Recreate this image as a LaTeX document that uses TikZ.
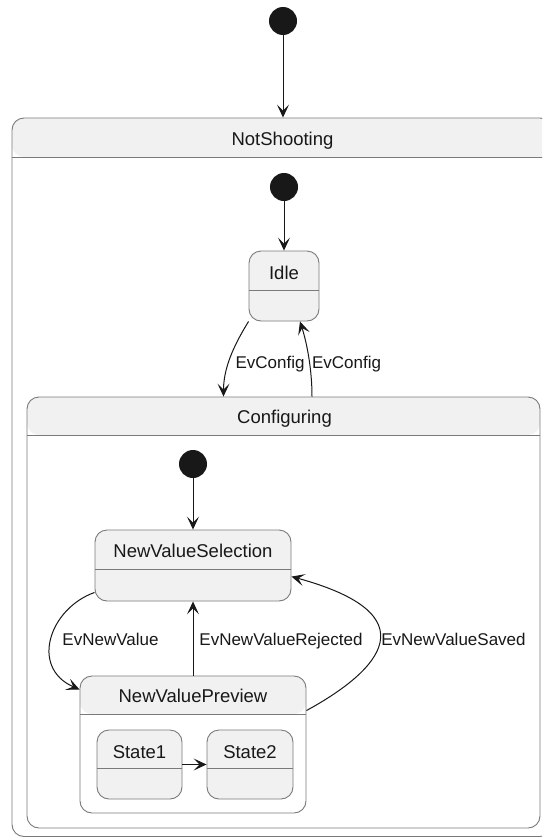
\documentclass[tikz,border=0pt]{standalone}
\usepackage{fontspec}
\setmainfont{Liberation Sans}
\usetikzlibrary{arrows.meta,positioning}
\definecolor{StateFill}{HTML}{F1F1F1}
\definecolor{StateLine}{HTML}{7A7A7A}
\definecolor{StateInk}{HTML}{181818}

\begin{document}
\begin{tikzpicture}[x=1pt, y=-1pt,
  startdot/.style={circle, fill=StateInk, inner sep=0pt, minimum size=28pt},
  statebox/.style={rounded corners=12pt, draw=StateLine, line width=0.9pt, inner sep=0pt},
  superstate/.style={statebox, fill=white,
    path picture={\fill[StateFill] (path picture bounding box.north west) rectangle ([yshift=-#1]path picture bounding box.north east);
                  \draw[StateLine, line width=0.9pt] ([yshift=-#1]path picture bounding box.north west) -- ([yshift=-#1]path picture bounding box.north east);}},
  simplestate/.style={statebox, fill=StateFill,
    path picture={\draw[StateLine, line width=0.9pt] ([yshift=-#1]path picture bounding box.north west) -- ([yshift=-#1]path picture bounding box.north east);}},
  statename/.style={font=\fontsize{18.5}{20}\selectfont, text=StateInk, inner sep=0pt, text height=13pt, text depth=0pt},
  evlabel/.style={font=\fontsize{17}{19}\selectfont, text=StateInk, inner sep=0pt, text height=12pt, text depth=0pt},
  transition/.style={-{Stealth[length=13pt, width=12pt, inset=6pt]}, draw=StateInk, line width=1pt}
]
\useasboundingbox (0,0) rectangle (542,838);
\clip (0,0) rectangle (542,838);
\fill[white] (0,0) rectangle (542,838);

\node[startdot] (top) at (283,21) {};
\node[superstate=39pt, minimum width=540pt, minimum height=718.5pt] (ns) at (282,477.25) {};
\node[statename] (nsname) at (282.5,139) {NotShooting};

\node[startdot] (nsstart) at (284,187) {};
\node[simplestate=39pt, minimum width=70pt, minimum height=70pt] (idle) at (284,286) {};
\node[statename] (idlename) at (284,273) {Idle};

\node[superstate=38pt, minimum width=513pt, minimum height=431pt] (cfg) at (283.5,612.5) {};
\node[statename] (cfgname) at (284.5,417) {Configuring};

\node[startdot] (cfgstart) at (193,464) {};
\node[simplestate=39pt, minimum width=196pt, minimum height=71pt] (nvs) at (193,565.5) {};
\node[statename] (nvsname) at (193,551) {NewValueSelection};

\node[superstate=38pt, minimum width=226pt, minimum height=137pt] (nvp) at (193,744.5) {};
\node[statename] (nvpname) at (193,696) {NewValuePreview};

\node[simplestate=38pt, minimum width=85pt, minimum height=69pt] (s1) at (139.5,764.5) {};
\node[statename] (s1name) at (139.5,752) {State1};
\node[simplestate=38pt, minimum width=86pt, minimum height=69pt] (s2) at (250,764.5) {};
\node[statename] (s2name) at (250,752) {State2};

\node[evlabel] (cfgin) at (270,362) {EvConfig};
\node[evlabel] (cfgout) at (346.5,362) {EvConfig};
\node[evlabel] (nvnew) at (110.5,639) {EvNewValue};
\node[evlabel] (nvrej) at (281,639) {EvNewValueRejected};
\node[evlabel] (nvsaved) at (453.5,639) {EvNewValueSaved};

\draw[transition] (top) -- (top |- ns.north);
\draw[transition] (nsstart) -- (idle);
\draw[transition] (idle.south west) .. controls +(-11,18) and +(0,-32) .. ([xshift=-60pt]cfg.north);
\draw[transition] ([xshift=28.5pt]cfg.north) .. controls +(0,-27) and +(7,22) .. ([xshift=16pt]idle.south);
\draw[transition] (cfgstart) -- (nvs);
\draw[transition] ([yshift=9pt]nvs.south west) .. controls +(-45,16) and +(-50,-22) .. ([yshift=-14pt]nvp.north west);
\draw[transition] (nvp) -- (nvs);
\draw[transition] ([yshift=-35pt]nvp.north east) .. controls +(75,-41) and +(139,38) .. ([yshift=-47pt]nvs.north east);
\draw[transition] (s1) -- (s2);
\end{tikzpicture}
\end{document}
